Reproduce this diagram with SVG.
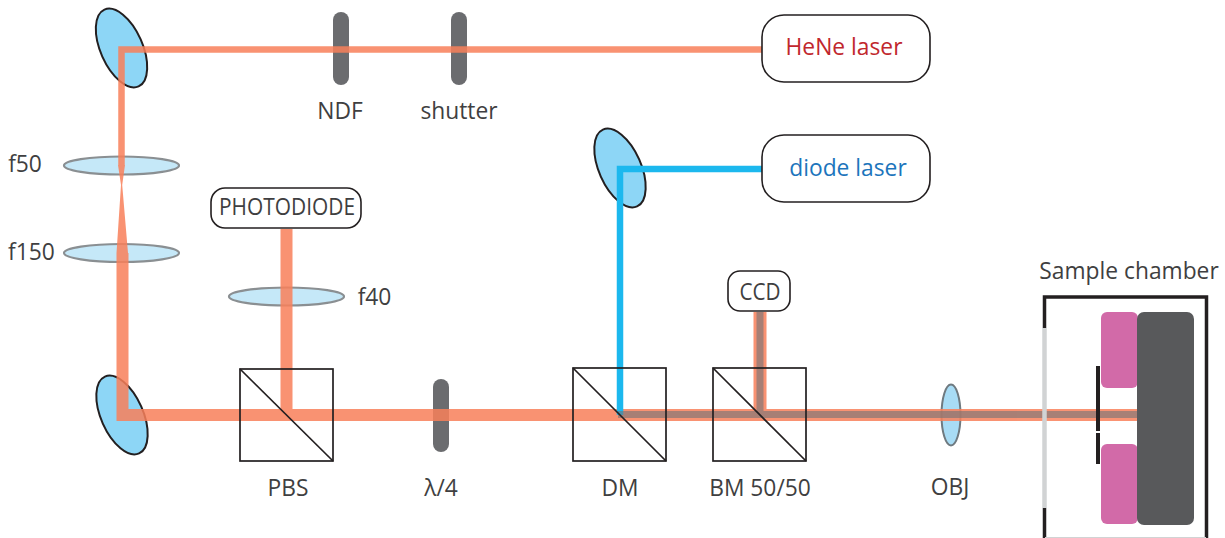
<svg xmlns="http://www.w3.org/2000/svg" width="1225" height="538" viewBox="0 0 1225 538">
<style>
text{font-family:"Open Sans","Noto Sans","Liberation Sans",sans-serif;font-size:22.8px;fill:#3f3f41;text-anchor:middle}
.mirror{fill:#8dd6f6;stroke:#231f20;stroke-width:2}
.lens{fill:#c5e8f8;stroke:#8a8f92;stroke-width:2.2}
.filter{fill:#6b6c6f}
.box{fill:#fff;stroke:#231f20;stroke-width:1.6}
.cube{fill:none;stroke:#231f20;stroke-width:1.7}
.beam{fill:none;stroke:#f9805a}
</style>
<g id="mirror-top"><ellipse class="mirror" cx="121.500" cy="48" rx="21" ry="42" transform="rotate(-24 121.500 48)"/></g>
<g id="mirror-bottom"><ellipse class="mirror" cx="122" cy="415" rx="21" ry="42" transform="rotate(-24 122 415)"/></g>
<g id="mirror-diode"><ellipse class="mirror" cx="620" cy="168" rx="21" ry="42" transform="rotate(-24 620 168)"/></g>
<g id="f50"><ellipse class="lens" cx="121.500" cy="165.500" rx="57.500" ry="9"/><text x="25" y="172">f50</text></g>
<g id="f150"><ellipse class="lens" cx="121.500" cy="253" rx="57.500" ry="9"/><text x="31.500" y="260">f150</text></g>
<g id="f40"><ellipse class="lens" cx="286.500" cy="296.500" rx="57.500" ry="9"/><text x="374.500" y="305">f40</text></g>
<g id="ndf"><rect class="filter" x="333" y="12" width="16" height="73" rx="8"/><text x="340" y="119">NDF</text></g>
<g id="shutter"><rect class="filter" x="451" y="12" width="16" height="73" rx="8"/><text x="459" y="119">shutter</text></g>
<g id="waveplate"><rect class="filter" x="433" y="379" width="16" height="73" rx="8"/><text x="441" y="496">λ/4</text></g>
<g id="obj"><ellipse cx="951" cy="415" rx="9.500" ry="30.500" fill="#a8dcf5" stroke="#6f7a80" stroke-width="2"/><text x="950" y="495">OBJ</text></g>
<g id="chamber">
<path d="M1044.500 328V297H1206.500V538M1044.500 508V538" fill="none" stroke="#231f20" stroke-width="3.500"/>
<path d="M1045 537.500H1206" fill="none" stroke="#d1d3d4" stroke-width="1"/>
<rect x="1101" y="312" width="37" height="76" rx="6" fill="#d26aa8"/>
<rect x="1101" y="444" width="37" height="80" rx="6" fill="#d26aa8"/>
<rect x="1137" y="312" width="57" height="213" rx="7" fill="#58595b"/>
<text x="1129" y="279">Sample chamber</text>
</g>
<g id="connectors">
<g opacity=".85">
<path class="beam" stroke-width="6.500" d="M762 49.500H121.500V165"/>
<path d="M118 165H125L122.200 185L128 253H116.500L121 185Z" fill="#f9805a"/>
<path class="beam" stroke-width="12" d="M122.500 253V415H1137"/>
<path class="beam" stroke-width="12" d="M286.500 229V415"/>
<path class="beam" stroke-width="13" d="M760 312V415"/>
</g>
<path fill="none" stroke="#1cb8ee" stroke-width="6.500" d="M762 169H620V415"/>
<path fill="none" stroke="#6f7378" stroke-opacity=".6" stroke-width="7" d="M618 414.500H1137M760 312V414"/>
</g>
<g id="window"><path d="M1044.500 328V508" fill="none" stroke="#d1d3d4" stroke-width="4.500"/></g>
<g id="pinhole"><path d="M1098 366V431M1098 433V464" fill="none" stroke="#231f20" stroke-width="4"/></g>
<g id="pbs"><rect class="cube" x="240" y="369" width="93" height="92"/><path class="cube" d="M240 369L333 461"/><text x="288" y="496">PBS</text></g>
<g id="dm"><rect class="cube" x="573" y="368" width="93" height="93"/><path class="cube" d="M573 368L666 461"/><text x="620" y="496">DM</text></g>
<g id="bm"><rect class="cube" x="713" y="368" width="93" height="93"/><path class="cube" d="M713 368L806 461"/><text x="760" y="496">BM 50/50</text></g>
<g id="hene"><rect class="box" x="762" y="15" width="168" height="67" rx="22"/><text x="844" y="55" style="fill:#c1272d">HeNe laser</text></g>
<g id="diode"><rect class="box" x="762" y="135" width="168" height="67" rx="22"/><text x="848" y="176" style="fill:#1c75bc">diode laser</text></g>
<g id="photodiode"><rect class="box" x="211" y="188" width="150" height="40" rx="14"/><text x="287" y="215" textLength="136" lengthAdjust="spacingAndGlyphs">PHOTODIODE</text></g>
<g id="ccd"><rect class="box" x="728" y="271" width="62" height="40" rx="12"/><text x="760" y="300" textLength="41" lengthAdjust="spacingAndGlyphs">CCD</text></g>
</svg>
